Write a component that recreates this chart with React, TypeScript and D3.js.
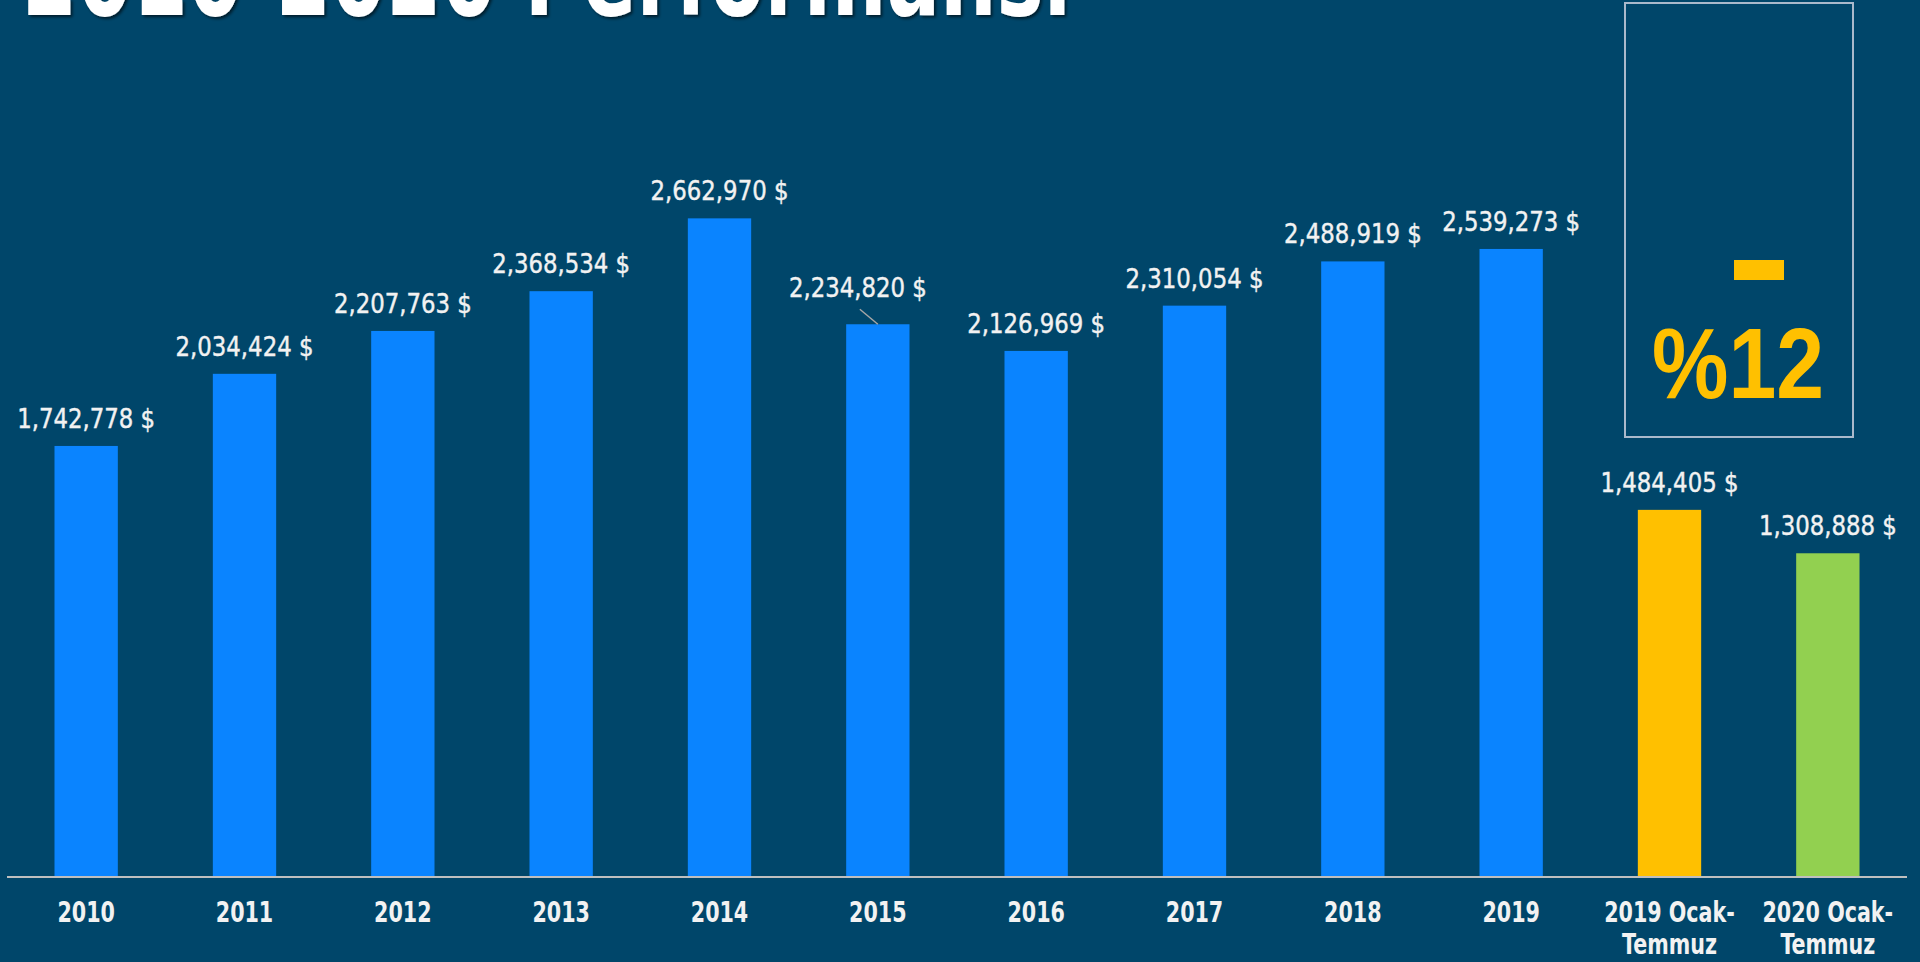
import React from 'react';
import * as d3 from 'd3';

const categories = ['2010', '2011', '2012', '2013', '2014', '2015', '2016', '2017', '2018', '2019', '2019 Ocak-Temmuz', '2020 Ocak-Temmuz'];
const categoryLines = [['2010'], ['2011'], ['2012'], ['2013'], ['2014'], ['2015'], ['2016'], ['2017'], ['2018'], ['2019'], ['2019 Ocak-', 'Temmuz'], ['2020 Ocak-', 'Temmuz']];
const values = [1742778, 2034424, 2207763, 2368534, 2662970, 2234820, 2126969, 2310054, 2488919, 2539273, 1484405, 1308888];
const title = '2010-2020 Performansı';
const changeText = '%12';

const W = 1920;
const H = 962;
const BG = '#00466a';
const NARROW = '"DejaVu Sans Condensed", "DejaVu Sans", sans-serif';

const colorFor = (c: string) => {
  if (c.startsWith('2019 Ocak')) return '#ffc000';
  if (c.startsWith('2020 Ocak')) return '#92d050';
  return '#0a84ff';
};

const fmt = d3.format(',');

const App: React.FC = () => {
  const x = d3.scaleBand<string>().domain(categories).range([7, 1907]).paddingInner(0.6).paddingOuter(0.3);
  const y = d3.scaleLinear().domain([0, 3000000]).range([877, 135]);

  return (
    <svg width={W} height={H} style={{ position: 'absolute', left: 0, top: 0, display: 'block' }}>
      <defs>
        <filter id="shadow" x="-5%" y="-50%" width="110%" height="200%">
          <feDropShadow dx="2" dy="2" stdDeviation="1.5" floodColor="#000" floodOpacity="0.6" />
        </filter>
      </defs>
      <rect width={W} height={H} fill={BG} />

      {/* title, cut off at the top like the slide */}
      <text
        x={22}
        y={15}
        fill="#fff"
        fontFamily={NARROW}
        fontWeight="bold"
        fontSize={117}
        textLength={1049}
        lengthAdjust="spacingAndGlyphs"
        filter="url(#shadow)"
      >
        {title}
      </text>

      {/* change box */}
      <rect x={1625} y={3} width={228} height={434} fill="none" stroke="#aab9cb" strokeWidth={2} />
      <rect x={1734} y={260} width={50} height={20} fill="#ffc000" />
      <text x={1652} y={398} fill="#ffc000" fontFamily="'Liberation Sans', Arial, sans-serif" fontWeight="bold" fontSize={100} textLength={172} lengthAdjust="spacingAndGlyphs">
        {changeText}
      </text>

      {/* bars */}
      {categories.map((c, i) => (
        <rect key={c} x={x(c)} y={y(values[i])} width={x.bandwidth()} height={y(0) - y(values[i])} fill={colorFor(c)} />
      ))}

      {/* value labels */}
      {categories.map((c, i) => {
        const cx = x(c)! + x.bandwidth() / 2;
        const top = y(values[i]);
        const shifted = c === '2015';
        const lx = shifted ? cx - 20 : cx;
        const ly = shifted ? top - 27 : top - 18;
        return (
          <g key={'l' + c}>
            {shifted && <line x1={cx - 18} y1={top - 15} x2={cx} y2={top} stroke="#a6a6a6" strokeWidth={1.5} />}
            <g transform={`translate(${lx},${ly}) scale(0.94,1)`}>
              <text textAnchor="middle" fill="#f2f2f2" stroke="#f2f2f2" strokeWidth={0.4} fontFamily={NARROW} fontSize={27}>
                {fmt(values[i])} $
              </text>
            </g>
          </g>
        );
      })}

      {/* axis */}
      <line x1={7} x2={1907} y1={877} y2={877} stroke="#bfbfbf" strokeWidth={2} />
      {categories.map((c, i) => (
        <g key={'a' + c} transform={`translate(${x(c)! + x.bandwidth() / 2},922) scale(0.82,1)`}>
          <text textAnchor="middle" fill="#f2f2f2" fontFamily={NARROW} fontWeight="bold" fontSize={28}>
            {categoryLines[i].map((t, k) => (
              <tspan key={k} x={0} dy={k === 0 ? 0 : 32}>
                {t}
              </tspan>
            ))}
          </text>
        </g>
      ))}
    </svg>
  );
};

export default App;
